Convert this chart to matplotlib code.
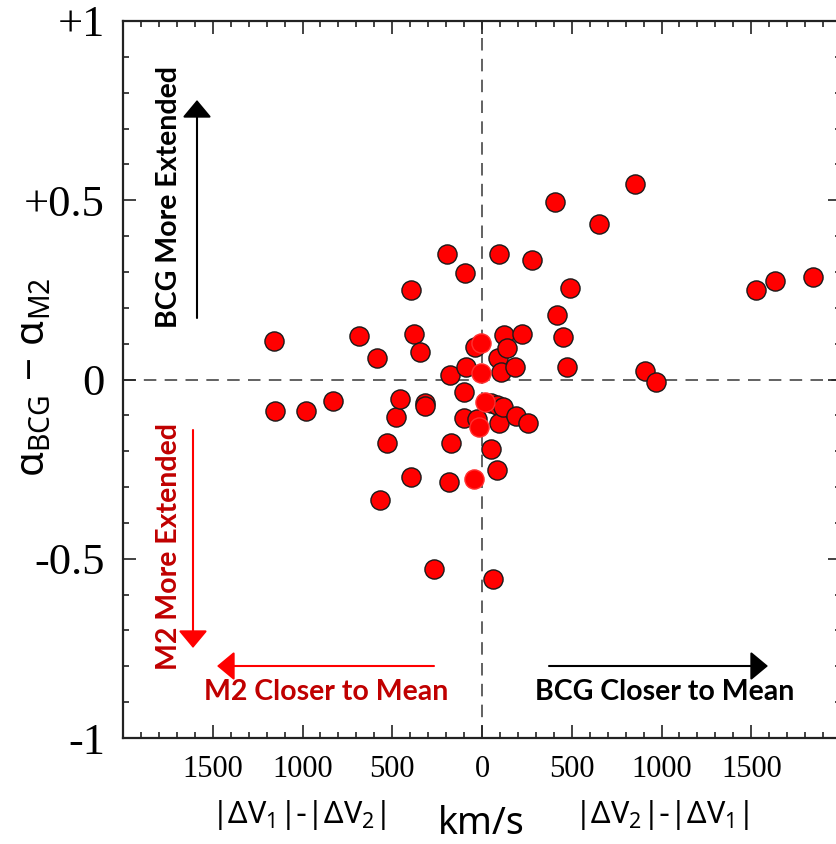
import matplotlib
matplotlib.use("Agg")
import matplotlib.pyplot as plt
from matplotlib.ticker import MultipleLocator

# ---- data -------------------------------------------------------------
# outlined points: velocity offset (km/s) and alpha difference
dv_pts = [-1160, -1151, -982, -829, -687, -587, -569, -530, -480, -456,
          -393, -393, -377, -343, -320, -320, -270, -194, -179, -183,
          -173, -98, -94, -98, -89, -39, -26, 48, 52, 61,
          85, 85, 89, 94, 93, 105, 118, 122, 139, 183,
          187, 222, 259, 279, 404, 418, 452, 475, 488, 650,
          853, 908, 969, 1525, 1630, 1845]
da_pts = [0.107, -0.089, -0.089, -0.059, 0.121, 0.060, -0.335, -0.178, -0.104, -0.055,
          0.250, -0.272, 0.127, 0.077, -0.065, -0.074, -0.529, 0.350, 0.013, -0.285,
          -0.178, -0.036, 0.298, -0.107, 0.036, 0.091, -0.111, -0.066, -0.194, -0.556,
          -0.071, -0.252, 0.061, 0.351, -0.122, 0.022, -0.076, 0.123, 0.087, 0.035,
          -0.101, 0.126, -0.121, 0.332, 0.496, 0.180, 0.119, 0.036, 0.255, 0.435,
          0.544, 0.025, -0.008, 0.250, 0.276, 0.287]
# points drawn without outline (near the zero-velocity line)
dv_soft = [-43, -15, -6, -4, 14]
da_soft = [-0.278, -0.132, 0.102, 0.017, -0.062]

xticks = [-1500, -1000, -500, 0, 500, 1000, 1500]
xticklabels = ['1500', '1000', '500', '0', '500', '1000', '1500']
yticks = [-1, -0.5, 0, 0.5, 1]
yticklabels = ['-1', '-0.5', '0', '+0.5', '+1']

# ---- figure -------------------------------------------------------------
W, H = 836, 844
plt.rcParams['mathtext.fontset'] = 'custom'
plt.rcParams['mathtext.rm'] = 'Noto Sans'
plt.rcParams['mathtext.it'] = 'Noto Sans:italic'
plt.rcParams['mathtext.bf'] = 'Noto Sans:bold'
plt.rcParams['lines.scale_dashes'] = False

fig = plt.figure(figsize=(W / 100, H / 100), dpi=100)
ax = fig.add_axes([123 / W, 1 - 738 / H, 718 / W, 717 / H])

def fp(x, y):
    """pixel (from top-left) -> figure fraction"""
    return (x / W, 1 - y / H)

ax.set_xlim(-2000, 2000)
ax.set_ylim(-1, 1)

ax.axhline(0, color='#555555', lw=1.3, dashes=(9, 6), zorder=1)
ax.axvline(0, color='#555555', lw=1.3, dashes=(9, 6), zorder=1)

ax.scatter(dv_pts, da_pts, s=190, facecolor='#ff0000', edgecolor='#1a1a1a',
           linewidth=1.0, zorder=3)
ax.scatter(dv_soft, da_soft, s=190, facecolor='#ff0000', edgecolor='#ff3030',
           linewidth=1.0, zorder=4)

ax.set_xticks(xticks)
ax.set_xticklabels(xticklabels, family='Liberation Serif', fontsize=22)
ax.set_yticks(yticks)
ax.set_yticklabels(yticklabels, family='Liberation Serif', fontsize=32)
ax.xaxis.set_minor_locator(MultipleLocator(100))
ax.yaxis.set_minor_locator(MultipleLocator(0.1))
ax.tick_params(which='both', direction='in', top=True, right=True,
               color='#222222', width=1.2)
ax.tick_params(which='major', length=9.5)
ax.tick_params(which='minor', length=4.5)
ax.tick_params(axis='y', which='major', pad=13)
ax.tick_params(axis='x', which='major', pad=12)
for sp in ax.spines.values():
    sp.set_linewidth(1.6)
    sp.set_color('#222222')

# y label
fig.text(*fp(33, 377), r'$\mathrm{\alpha_{BCG}}$ $-$ $\mathrm{\alpha_{M2}}$',
         rotation=90, ha='center', va='center', fontsize=29)

# bottom labels
fig.text(*fp(481, 834), 'km/s', family='Noto Sans', fontsize=27,
         ha='center', va='baseline')
fig.text(*fp(299, 815), r'$\mathrm{|\Delta V_1|}$-$\mathrm{|\Delta V_2|}$',
         fontsize=22, ha='center', va='center')
fig.text(*fp(662, 815), r'$\mathrm{|\Delta V_2|}$-$\mathrm{|\Delta V_1|}$',
         fontsize=22, ha='center', va='center')

# annotation arrows
def arrow(tail, tip, color):
    ax.annotate('', xy=fp(*tip), xytext=fp(*tail), xycoords='figure fraction',
                textcoords='figure fraction',
                arrowprops=dict(arrowstyle='-|>,head_length=0.6,head_width=0.5',
                                mutation_scale=18, lw=1.5, color=color,
                                shrinkA=0, shrinkB=0), zorder=5)

arrow((197, 318), (197, 100), 'black')
arrow((193, 430), (193, 648), '#ff0000')
arrow((434, 666), (217, 666), '#ff0000')
arrow((549, 666), (768, 666), 'black')

bold = dict(family=['Lato', 'DejaVu Sans'], weight='bold', fontsize=20.5)
fig.text(*fp(169, 197), 'BCG More Extended', rotation=90, ha='center',
         va='center', color='black', **bold)
fig.text(*fp(169, 547), 'M2 More Extended', rotation=90, ha='center',
         va='center', color='#c00000', **bold)
fig.text(*fp(326, 692), 'M2 Closer to Mean', ha='center', va='center',
         color='#c00000', **bold)
fig.text(*fp(665, 692), 'BCG Closer to Mean', ha='center', va='center',
         color='black', **bold)

fig.savefig('out.png', dpi=100)
